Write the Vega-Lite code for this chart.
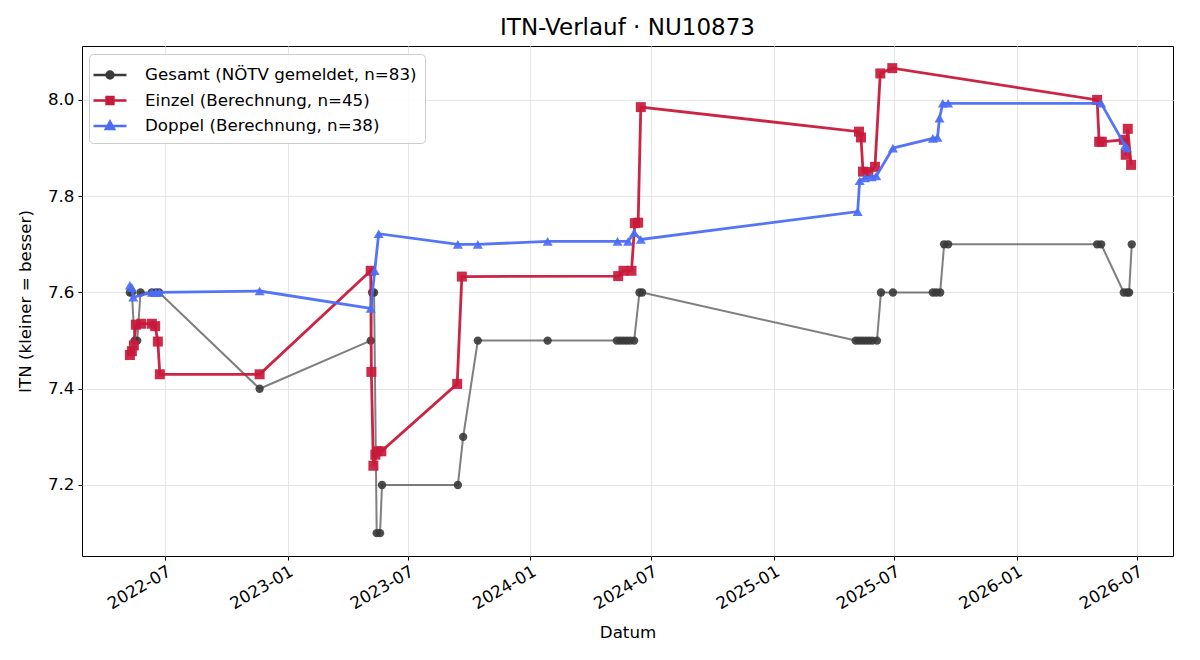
{
  "$schema": "https://vega.github.io/schema/vega-lite/v6.json",
  "width": 1091,
  "height": 510,
  "autosize": {"type": "none"},
  "padding": {"left": 82, "top": 46, "right": 27, "bottom": 104},
  "background": "white",
  "title": {"text": "ITN-Verlauf · NU10873", "fontSize": 23, "font": "DejaVu Sans", "fontWeight": "normal", "color": "#000", "anchor": "middle", "offset": 6},
  "config": {
    "font": "DejaVu Sans",
    "view": {"stroke": "#000", "strokeWidth": 1},
    "axis": {"domain": false, "tickColor": "#000", "tickSize": 4, "labelFontSize": 16.7, "labelColor": "#000", "labelFont": "DejaVu Sans", "titleFont": "DejaVu Sans", "titleFontSize": 16.7, "titleFontWeight": "normal", "titleColor": "#000", "gridColor": "#e6e6e6", "gridWidth": 1}
  },
  "data": {"values": [
    {"s":"G","d":"2022-05-09","v":7.6},{"s":"G","d":"2022-05-12","v":7.6},{"s":"G","d":"2022-05-16","v":7.5},{"s":"G","d":"2022-05-20","v":7.5},{"s":"G","d":"2022-05-25","v":7.6},{"s":"G","d":"2022-06-11","v":7.6},{"s":"G","d":"2022-06-17","v":7.6},{"s":"G","d":"2022-06-22","v":7.6},{"s":"G","d":"2022-11-20","v":7.4},{"s":"G","d":"2023-05-06","v":7.5},{"s":"G","d":"2023-05-08","v":7.6},{"s":"G","d":"2023-05-11","v":7.6},{"s":"G","d":"2023-05-15","v":7.1},{"s":"G","d":"2023-05-20","v":7.1},{"s":"G","d":"2023-05-23","v":7.2},{"s":"G","d":"2023-09-14","v":7.2},{"s":"G","d":"2023-09-22","v":7.3},{"s":"G","d":"2023-10-14","v":7.5},{"s":"G","d":"2024-01-27","v":7.5},{"s":"G","d":"2024-05-10","v":7.5},{"s":"G","d":"2024-05-15","v":7.5},{"s":"G","d":"2024-05-20","v":7.5},{"s":"G","d":"2024-05-25","v":7.5},{"s":"G","d":"2024-05-30","v":7.5},{"s":"G","d":"2024-06-05","v":7.5},{"s":"G","d":"2024-06-13","v":7.6},{"s":"G","d":"2024-06-17","v":7.6},{"s":"G","d":"2025-05-04","v":7.5},{"s":"G","d":"2025-05-09","v":7.5},{"s":"G","d":"2025-05-14","v":7.5},{"s":"G","d":"2025-05-19","v":7.5},{"s":"G","d":"2025-05-24","v":7.5},{"s":"G","d":"2025-05-29","v":7.5},{"s":"G","d":"2025-06-05","v":7.5},{"s":"G","d":"2025-06-11","v":7.6},{"s":"G","d":"2025-06-29","v":7.6},{"s":"G","d":"2025-08-28","v":7.6},{"s":"G","d":"2025-09-02","v":7.6},{"s":"G","d":"2025-09-08","v":7.6},{"s":"G","d":"2025-09-14","v":7.7},{"s":"G","d":"2025-09-20","v":7.7},{"s":"G","d":"2026-05-02","v":7.7},{"s":"G","d":"2026-05-08","v":7.7},{"s":"G","d":"2026-06-11","v":7.6},{"s":"G","d":"2026-06-16","v":7.6},{"s":"G","d":"2026-06-19","v":7.6},{"s":"G","d":"2026-06-23","v":7.7},
    {"s":"E","d":"2022-05-09","v":7.47},{"s":"E","d":"2022-05-12","v":7.478},{"s":"E","d":"2022-05-15","v":7.49},{"s":"E","d":"2022-05-18","v":7.533},{"s":"E","d":"2022-05-26","v":7.535},{"s":"E","d":"2022-06-11","v":7.535},{"s":"E","d":"2022-06-16","v":7.53},{"s":"E","d":"2022-06-20","v":7.498},{"s":"E","d":"2022-06-23","v":7.43},{"s":"E","d":"2022-11-20","v":7.43},{"s":"E","d":"2023-05-06","v":7.645},{"s":"E","d":"2023-05-07","v":7.435},{"s":"E","d":"2023-05-10","v":7.24},{"s":"E","d":"2023-05-13","v":7.263},{"s":"E","d":"2023-05-16","v":7.27},{"s":"E","d":"2023-05-22","v":7.27},{"s":"E","d":"2023-09-13","v":7.41},{"s":"E","d":"2023-09-20","v":7.633},{"s":"E","d":"2024-05-12","v":7.634},{"s":"E","d":"2024-05-20","v":7.645},{"s":"E","d":"2024-06-01","v":7.645},{"s":"E","d":"2024-06-06","v":7.744},{"s":"E","d":"2024-06-11","v":7.745},{"s":"E","d":"2024-06-15","v":7.985},{"s":"E","d":"2025-05-09","v":7.934},{"s":"E","d":"2025-05-12","v":7.922},{"s":"E","d":"2025-05-15","v":7.851},{"s":"E","d":"2025-05-23","v":7.85},{"s":"E","d":"2025-06-02","v":7.861},{"s":"E","d":"2025-06-10","v":8.055},{"s":"E","d":"2025-06-28","v":8.066},{"s":"E","d":"2026-05-02","v":8.0},{"s":"E","d":"2026-05-05","v":7.913},{"s":"E","d":"2026-05-09","v":7.913},{"s":"E","d":"2026-06-11","v":7.917},{"s":"E","d":"2026-06-14","v":7.886},{"s":"E","d":"2026-06-17","v":7.94},{"s":"E","d":"2026-06-22","v":7.865},
    {"s":"D","d":"2022-05-09","v":7.615},{"s":"D","d":"2022-05-12","v":7.61},{"s":"D","d":"2022-05-14","v":7.59},{"s":"D","d":"2022-06-11","v":7.6},{"s":"D","d":"2022-06-17","v":7.6},{"s":"D","d":"2022-06-22","v":7.6},{"s":"D","d":"2022-11-20","v":7.603},{"s":"D","d":"2023-05-06","v":7.567},{"s":"D","d":"2023-05-12","v":7.645},{"s":"D","d":"2023-05-18","v":7.722},{"s":"D","d":"2023-09-14","v":7.7},{"s":"D","d":"2023-10-14","v":7.7},{"s":"D","d":"2024-01-27","v":7.706},{"s":"D","d":"2024-05-11","v":7.706},{"s":"D","d":"2024-05-27","v":7.706},{"s":"D","d":"2024-06-05","v":7.724},{"s":"D","d":"2024-06-15","v":7.71},{"s":"D","d":"2025-05-07","v":7.768},{"s":"D","d":"2025-05-10","v":7.832},{"s":"D","d":"2025-05-18","v":7.838},{"s":"D","d":"2025-05-28","v":7.84},{"s":"D","d":"2025-06-04","v":7.842},{"s":"D","d":"2025-06-29","v":7.9},{"s":"D","d":"2025-08-28","v":7.92},{"s":"D","d":"2025-09-04","v":7.922},{"s":"D","d":"2025-09-07","v":7.962},{"s":"D","d":"2025-09-12","v":7.993},{"s":"D","d":"2025-09-20","v":7.993},{"s":"D","d":"2026-05-08","v":7.993},{"s":"D","d":"2026-06-13","v":7.905},{"s":"D","d":"2026-06-16","v":7.9}
  ]},
  "encoding": {
    "x": {"field": "d", "type": "temporal",
      "scale": {"type": "utc", "domain": [{"year":2022,"month":2,"date":26,"utc":true},{"year":2026,"month":8,"date":24,"utc":true}]},
      "axis": {"title": "Datum", "values": [{"year":2022,"month":7,"date":1,"utc":true},{"year":2023,"month":1,"date":1,"utc":true},{"year":2023,"month":7,"date":1,"utc":true},{"year":2024,"month":1,"date":1,"utc":true},{"year":2024,"month":7,"date":1,"utc":true},{"year":2025,"month":1,"date":1,"utc":true},{"year":2025,"month":7,"date":1,"utc":true},{"year":2026,"month":1,"date":1,"utc":true},{"year":2026,"month":7,"date":1,"utc":true}],
        "labelExpr": "utcFormat(datum.value, '%Y-%m')", "labelAngle": -30, "labelAlign": "right", "labelBaseline": "top", "labelPadding": 3, "titlePadding": 12, "labelOverlap": false}},
    "y": {"field": "v", "type": "quantitative",
      "scale": {"domain": [7.0525, 8.112], "nice": false, "zero": false},
      "axis": {"title": "ITN  (kleiner = besser)", "values": [7.2, 7.4, 7.6, 7.8, 8.0], "format": ".1f", "labelPadding": 4, "titlePadding": 13}},
    "color": {"field": "s", "type": "nominal",
      "scale": {"domain": ["G", "E", "D"], "range": ["#3a3a3a", "#c8193b", "#4c6ef5"]},
      "legend": {"orient": "none", "legendX": 7, "legendY": 8, "title": null, "symbolSize": 529, "symbolStrokeWidth": 2.5, "symbolOpacity": 1,
        "labelFontSize": 16.7, "labelFont": "DejaVu Sans", "labelColor": "#000", "labelOffset": 22, "labelLimit": 600,
        "strokeColor": "#cccccc", "fillColor": "rgba(255,255,255,0.85)", "padding": 8, "cornerRadius": 4, "rowPadding": 3.5,
        "labelExpr": "datum.value === 'G' ? 'Gesamt (NÖTV gemeldet, n=83)' : datum.value === 'E' ? 'Einzel (Berechnung, n=45)' : 'Doppel (Berechnung, n=38)'",
        "encode": {"symbols": {"update": {
          "shape": {"signal": "datum.value === 'G' ? 'M-1.435,0H1.435M-0.3,0A0.3,0.3,0,1,1,0.3,0A0.3,0.3,0,1,1,-0.3,0Z' : datum.value === 'E' ? 'M-1.435,0H1.435M-0.3,-0.3H0.3V0.3H-0.3Z' : 'M-1.435,0H1.435M0,-0.38L0.36,0.26H-0.36Z'"},
          "stroke": {"signal": "datum.value === 'G' ? '#777777' : scale('color', datum.value)"},
          "fill": {"signal": "datum.value === 'G' ? '#4e4e4e' : scale('color', datum.value)"},
          "strokeWidth": {"value": 2.5},
          "opacity": {"value": 1}
        }}}}
    }
  },
  "layer": [
    {"transform": [{"filter": "datum.s === 'G'"}], "mark": {"type": "line", "strokeWidth": 2, "opacity": 0.65}},
    {"transform": [{"filter": "datum.s === 'G'"}], "mark": {"type": "point", "shape": "circle", "filled": true, "size": 70, "opacity": 0.9}},
    {"transform": [{"filter": "datum.s === 'E'"}], "mark": {"type": "line", "strokeWidth": 2.8, "opacity": 0.95}},
    {"transform": [{"filter": "datum.s === 'E'"}], "mark": {"type": "point", "shape": "square", "filled": true, "size": 100, "opacity": 0.92}},
    {"transform": [{"filter": "datum.s === 'D'"}], "mark": {"type": "line", "strokeWidth": 2.8, "opacity": 0.95}},
    {"transform": [{"filter": "datum.s === 'D'"}], "mark": {"type": "point", "shape": "triangle-up", "filled": true, "size": 100, "opacity": 0.92}}
  ]
}
